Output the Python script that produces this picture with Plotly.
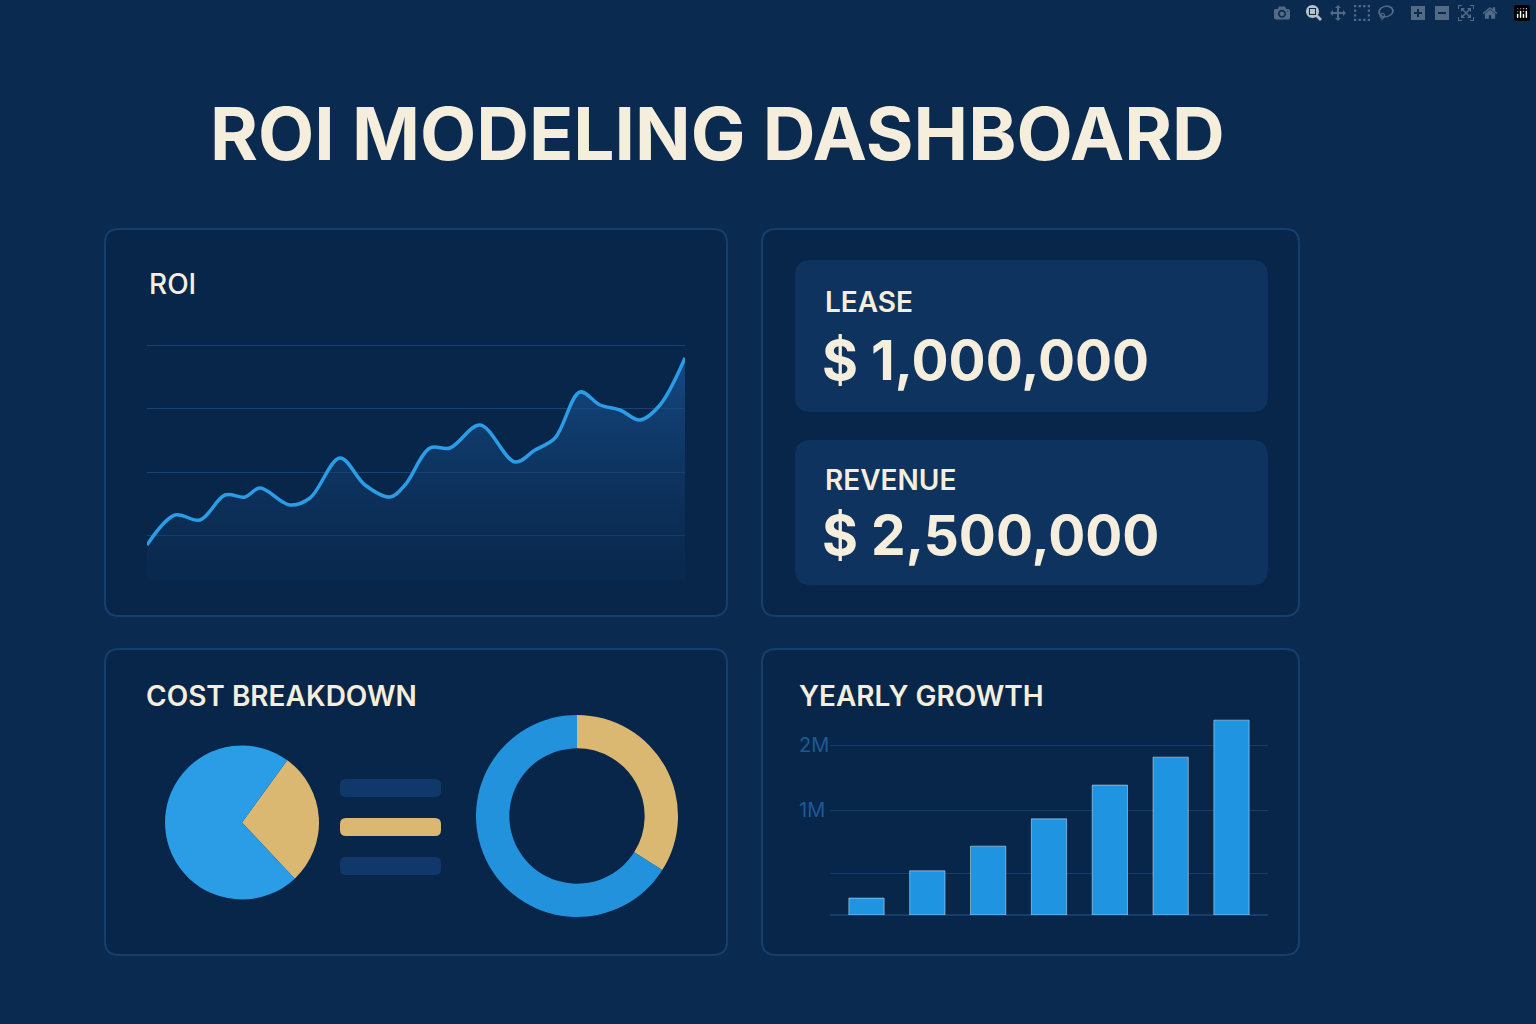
import plotly.graph_objects as go

W, H = 1536, 1024
BG = "#0a2a50"
PANEL = "#08264a"
BORDER = "#14406f"
CARD = "#0e335f"
BLUE = "#2a9de6"
GOLD = "#dbb872"
CREAM = "#f6eedd"

# ROI line data
roi_x = [147, 175, 200, 225, 245, 260, 290, 310, 340, 365, 390, 405, 430, 450, 480, 515, 535, 555, 580, 600, 620, 640, 660, 685]
roi_y = [35, 65, 60, 85, 83, 92, 75, 82, 122, 95, 83, 95, 132, 132, 155, 118, 130, 142, 188, 175, 170, 160, 175, 222]
roi_grid = [45, 108, 172, 235]

# cost breakdown
pie_labels = ["Other", "Lease"]
pie_values = [28, 72]
donut_values = [34, 66]

# yearly growth
years = ["Y1", "Y2", "Y3", "Y4", "Y5", "Y6", "Y7"]
growth = [0.26, 0.68, 1.06, 1.48, 2.0, 2.43, 3.0]
growth_ticks = [0.646, 1.615, 2.615]
growth_ticktext = ["", "1M", "2M"]

def px(x): return x / W
def py(y): return 1 - y / H

def rrect(x0, y0, x1, y1, r, fill, line=None, lw=0):
    p = (f"M{px(x0+r)},{py(y0)} L{px(x1-r)},{py(y0)} Q{px(x1)},{py(y0)} {px(x1)},{py(y0+r)} "
         f"L{px(x1)},{py(y1-r)} Q{px(x1)},{py(y1)} {px(x1-r)},{py(y1)} L{px(x0+r)},{py(y1)} "
         f"Q{px(x0)},{py(y1)} {px(x0)},{py(y1-r)} L{px(x0)},{py(y0+r)} Q{px(x0)},{py(y0)} {px(x0+r)},{py(y0)} Z")
    return dict(type="path", xref="paper", yref="paper", path=p, fillcolor=fill,
                line=dict(color=line or fill, width=lw), layer="below")

fig = go.Figure()

fig.add_trace(go.Scatter(x=roi_x, y=roi_y, mode="lines", line=dict(color=BLUE, width=3.5, shape="spline"),
                         fill="tozeroy", fillgradient=dict(type="vertical",
                         colorscale=[[0, "rgba(12,45,85,0.3)"], [1, "rgba(25,85,150,0.75)"]]),
                         xaxis="x", yaxis="y", hoverinfo="skip"))
fig.add_trace(go.Pie(labels=pie_labels, values=pie_values, marker=dict(colors=[GOLD, BLUE]),
                     textinfo="none", sort=False, direction="clockwise", rotation=36,
                     domain=dict(x=[px(165), px(319)], y=[py(906), py(739)])))
fig.add_trace(go.Pie(labels=pie_labels, values=donut_values, marker=dict(colors=[GOLD, "#2292dc"]),
                     textinfo="none", sort=False, direction="clockwise", rotation=0, hole=0.67,
                     domain=dict(x=[px(476), px(678)], y=[py(927), py(705)])))
fig.add_trace(go.Bar(x=years, y=growth, marker=dict(color="#1f95e2"), width=0.58,
                     xaxis="x2", yaxis="y2", hoverinfo="skip"))

shapes = [
    rrect(105, 229, 727, 616, 14, PANEL, BORDER, 2),
    rrect(762, 229, 1299, 616, 14, PANEL, BORDER, 2),
    rrect(105, 649, 727, 955, 14, PANEL, BORDER, 2),
    rrect(762, 649, 1299, 955, 14, PANEL, BORDER, 2),
    rrect(795, 260, 1268, 412, 16, CARD),
    rrect(795, 440, 1268, 585, 16, CARD),
    rrect(340, 779, 441, 797, 6, "#11386a"),
    rrect(340, 818, 441, 836, 6, GOLD),
    rrect(340, 857, 441, 875, 6, "#11386a"),
]

ann = []
def t(x, y, s, size, color=CREAM, weight=600, anchor="left"):
    ann.append(dict(x=px(x), y=py(y), xref="paper", yref="paper", text=s, showarrow=False,
                    xanchor=anchor, yanchor="middle",
                    font=dict(family="Inter", size=size, color=color, weight=weight)))
t(717, 133, "ROI MODELING DASHBOARD", 73, weight=700, anchor="center")
t(147, 284, "ROI", 28, weight=500)
t(823, 302, "LEASE", 28, weight=600)
t(820, 360, "$ 1,000,000", 55, weight=700)
t(823, 480, "REVENUE", 28, weight=600)
t(820, 535, "$ 2,500,000", 55, weight=700)
t(144, 696, "COST BREAKDOWN", 28, weight=600)
t(797, 696, "YEARLY GROWTH", 28, weight=600)

fig.update_layout(
    width=W, height=H, margin=dict(l=0, r=0, t=0, b=0),
    paper_bgcolor=BG, plot_bgcolor="rgba(0,0,0,0)", showlegend=False,
    shapes=shapes, annotations=ann,
    xaxis=dict(domain=[px(147), px(685)], range=[147, 685], visible=False, fixedrange=True),
    yaxis=dict(domain=[py(580), py(340)], range=[0, 240], tickvals=roi_grid, showticklabels=False,
               gridcolor="#1a4272", gridwidth=1, zeroline=False),
    xaxis2=dict(domain=[px(830), px(1268)], range=[-0.6, 6.6], visible=False),
    yaxis2=dict(domain=[py(915), py(700)], range=[0, 3.31], tickvals=growth_ticks, ticktext=growth_ticktext,
                gridcolor="#163d6b", zeroline=True, zerolinecolor="#163d6b",
                tickfont=dict(family="Inter", size=20, color="#1c5a95"), ticklabelposition="inside",
                anchor="free", position=px(795)),
    bargap=0.4,
)
fig.write_html("out.html", post_script="document.body.style.margin='0';document.body.style.background='#0a2a50';")
